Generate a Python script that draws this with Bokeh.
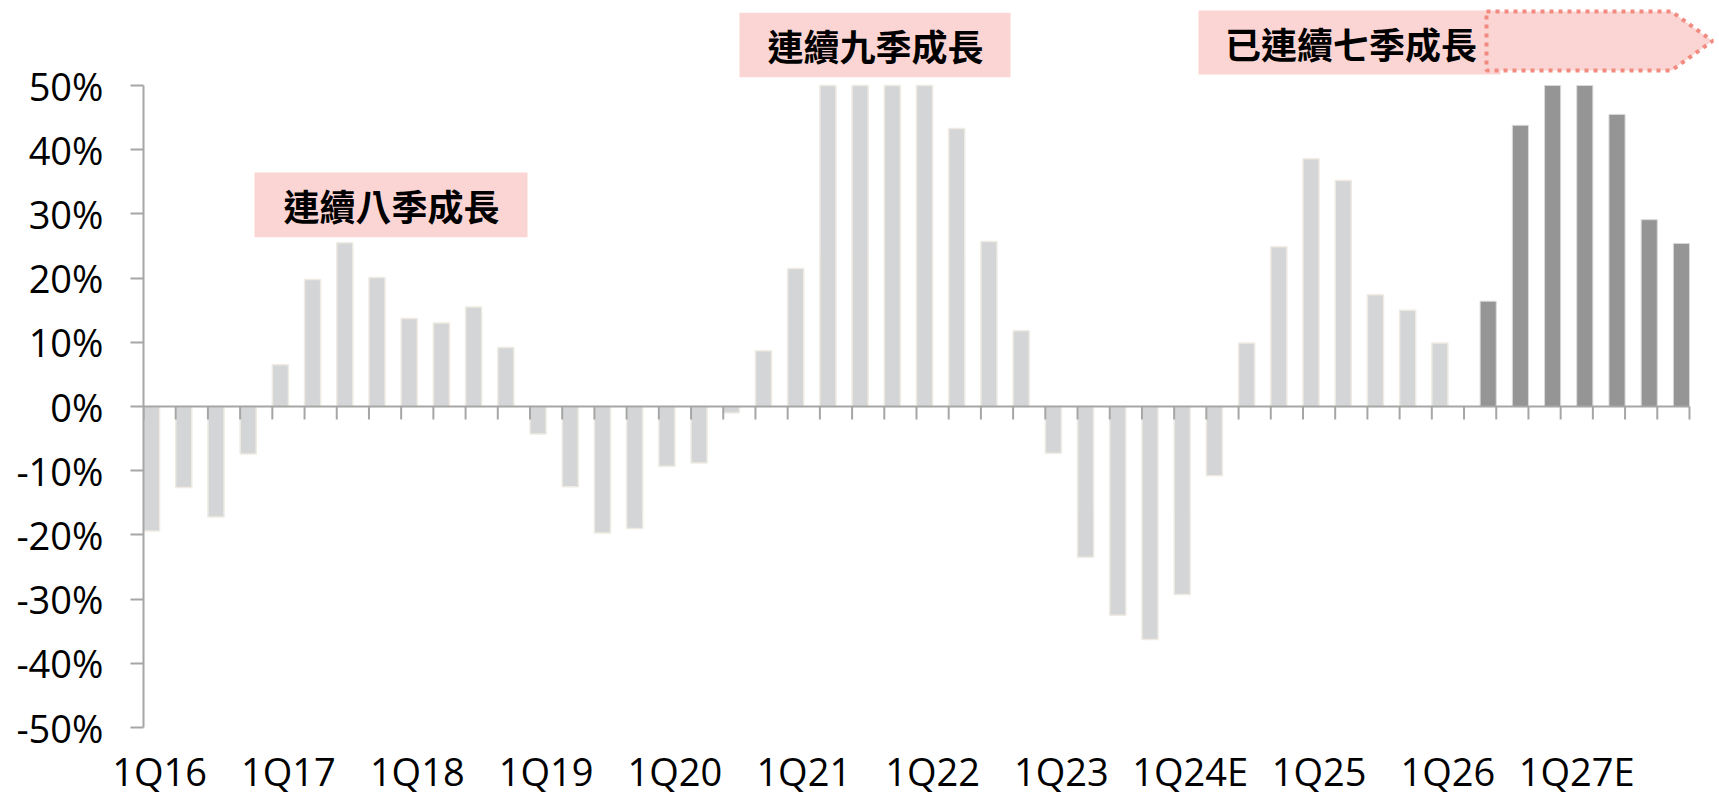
import numpy as np
from bokeh.plotting import figure
from bokeh.models import LinearAxis, FixedTicker, Range1d
from bokeh.core.properties import value
from bokeh.embed import file_html
from bokeh.resources import INLINE

# ---------------- data ----------------
quarters = [
    "1Q16", "2Q16", "3Q16", "4Q16", "1Q17", "2Q17", "3Q17", "4Q17",
    "1Q18", "2Q18", "3Q18", "4Q18", "1Q19", "2Q19", "3Q19", "4Q19",
    "1Q20", "2Q20", "3Q20", "4Q20", "1Q21", "2Q21", "3Q21", "4Q21",
    "1Q22", "2Q22", "3Q22", "4Q22", "1Q23", "2Q23", "3Q23", "4Q23",
    "1Q24E", "2Q24E", "3Q24E", "4Q24E", "1Q25", "2Q25", "3Q25", "4Q25",
    "1Q26", "2Q26", "3Q26", "4Q26", "1Q27E", "2Q27E", "3Q27E", "4Q27E",
]
# YoY growth (%), actual / reported part (light bars) 1Q16 .. 1Q26
# (values shown at 50 reach or exceed the 50% axis maximum)
actual_growth = [
    -19.4, -12.6, -17.2, -7.4, 6.5, 19.8, 25.5, 20.1,
    13.7, 13.0, 15.5, 9.2, -4.3, -12.5, -19.7, -19.0,
    -9.3, -8.8, -1.0, 8.7, 21.5, 50.0, 50.0, 50.0,
    50.0, 43.3, 25.7, 11.8, -7.3, -23.5, -32.5, -36.3,
    -29.3, -10.8, 9.9, 24.9, 38.6, 35.2, 17.4, 15.0,
    9.9,
]
# forecast part (dark bars) 2Q26 .. 4Q27E
forecast_growth = [16.4, 43.8, 50.0, 50.0, 45.5, 29.1, 25.4]

tick_labels = ["1Q16", "1Q17", "1Q18", "1Q19", "1Q20", "1Q21",
               "1Q22", "1Q23", "1Q24E", "1Q25", "1Q26", "1Q27E"]
y_ticks = [-50, -40, -30, -20, -10, 0, 10, 20, 30, 40, 50]
y_tick_labels = ["-50%", "-40%", "-30%", "-20%", "-10%", "0%",
                 "10%", "20%", "30%", "40%", "50%"]

annotations = ["連續八季成長", "連續九季成長", "已連續七季成長"]

# ---------------- layout helpers ----------------
AXIS_MIN, AXIS_MAX = -50, 50
PX_PER_CAT = 32.208
PX_PER_PCT = 6.42
X0_PX = 143.0
Y0_PX = 406.0


def px2x(px):
    return (px - X0_PX) / PX_PER_CAT


def py2y(py):
    return (Y0_PX - py) / PX_PER_PCT


W, H = 1716, 800
FRAME_BOTTOM_PX = 728
X_END = px2x(W)
Y_TOP = py2y(0)
Y_BOT = py2y(FRAME_BOTTOM_PX)

FONT_NUM = "Open Sans"
FONT_CJK = "Noto Sans CJK TC"
AXIS_COLOR = "#a6a6a6"
PINK = "#fad5d4"

p = figure(width=W, height=H, x_range=Range1d(0, X_END), y_range=Range1d(Y_BOT, Y_TOP),
           output_backend="svg", toolbar_location=None,
           x_axis_type=None, y_axis_type=None,
           min_border_left=int(X0_PX), min_border_right=0, min_border_top=0,
           min_border_bottom=H - FRAME_BOTTOM_PX)
p.outline_line_color = None
p.background_fill_color = "white"

# ---------------- bars ----------------
n_act = len(actual_growth)
n_all = len(quarters)
act_x = np.arange(n_act) + 0.25
act_top = np.clip(np.array(actual_growth), AXIS_MIN, AXIS_MAX)
p.vbar(x=act_x, width=0.5, top=act_top, bottom=0,
       fill_color="#d4d5d7", line_color="#efebe3", line_width=1.5)

fc_x = np.arange(n_act, n_all) + 0.75
fc_top = np.clip(np.array(forecast_growth), AXIS_MIN, AXIS_MAX)
p.vbar(x=fc_x, width=0.5, top=fc_top, bottom=0,
       fill_color="#959595", line_color="#dadada", line_width=1)

# ---------------- category axis line at 0 ----------------
p.segment(x0=[0], y0=[0], x1=[n_all], y1=[0], line_color=AXIS_COLOR, line_width=2)
bounds = np.arange(0, n_all + 1)
p.segment(x0=bounds, y0=np.zeros(len(bounds)), x1=bounds,
          y1=np.full(len(bounds), -13 / PX_PER_PCT), line_color=AXIS_COLOR, line_width=2)

# ---------------- value axis ----------------
yaxis = LinearAxis(bounds=(AXIS_MIN, AXIS_MAX), ticker=FixedTicker(ticks=y_ticks),
                   major_label_overrides={t: l for t, l in zip(y_ticks, y_tick_labels)})
yaxis.axis_line_color = AXIS_COLOR
yaxis.axis_line_width = 2
yaxis.major_tick_line_color = AXIS_COLOR
yaxis.major_tick_line_width = 2
yaxis.major_tick_out = 13
yaxis.major_tick_in = 0
yaxis.minor_tick_line_color = None
yaxis.major_label_standoff = 27
yaxis.major_label_text_font = FONT_NUM
yaxis.major_label_text_font_size = "38px"
yaxis.major_label_text_color = "black"
p.add_layout(yaxis, "left")

# ---------------- category labels (every 4th quarter) ----------------
x_ticks = [quarters.index(t) + 0.5 for t in tick_labels]
xaxis = LinearAxis(ticker=FixedTicker(ticks=x_ticks),
                   major_label_overrides={t: l for t, l in zip(x_ticks, tick_labels)})
xaxis.axis_line_color = None
xaxis.major_tick_line_color = None
xaxis.major_tick_out = 0
xaxis.major_tick_in = 0
xaxis.minor_tick_line_color = None
xaxis.major_label_standoff = 16
xaxis.major_label_text_font = FONT_NUM
xaxis.major_label_text_font_size = "38px"
xaxis.major_label_text_color = "black"
p.add_layout(xaxis, "below")

# ---------------- annotations ----------------
box_l = [px2x(254), px2x(739), px2x(1198)]
box_r = [px2x(527), px2x(1010), px2x(1500)]
box_t = [py2y(172), py2y(12.3), py2y(10)]
box_b = [py2y(236.7), py2y(76.7), py2y(74)]
p.quad(left=box_l, right=box_r, top=box_t, bottom=box_b,
       fill_color=PINK, line_color=None)

arrow_x = [px2x(1486), px2x(1671), px2x(1712), px2x(1671), px2x(1486)]
arrow_y = [py2y(11), py2y(11), py2y(40.5), py2y(70), py2y(70)]
p.patch(x=arrow_x, y=arrow_y, fill_color=PINK, line_color="#f28a80",
        line_width=4, line_dash="4 5")

txt_x = [px2x(391), px2x(875), px2x(1350.5)]
txt_y = [py2y(204), py2y(44.5), py2y(42)]
p.text(x=txt_x, y=txt_y, text=annotations,
       text_font=value(FONT_CJK), text_font_style="bold", text_font_size="36px",
       text_color="black", text_align="center", text_baseline="middle")

open("out.html", "w").write(file_html(p, INLINE))
